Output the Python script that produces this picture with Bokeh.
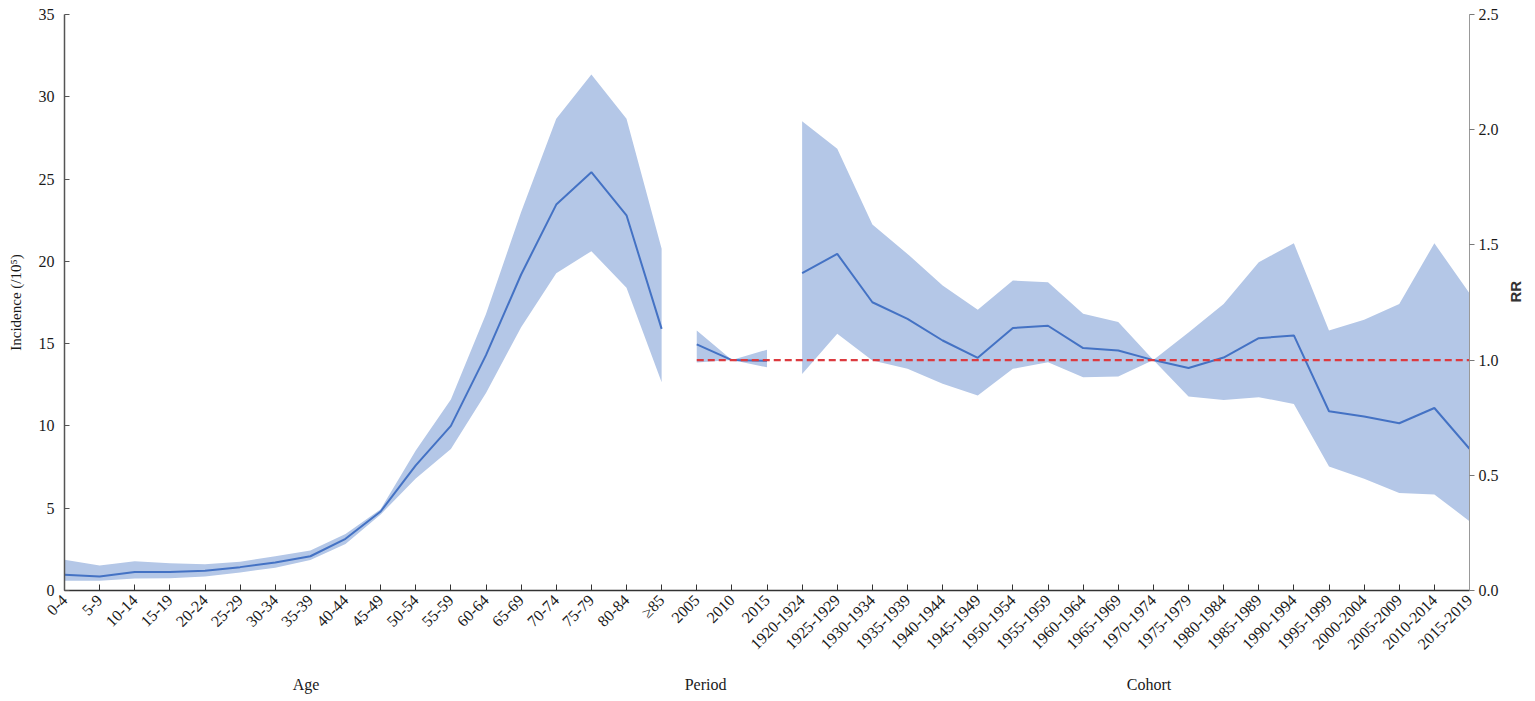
import math
from bokeh.plotting import figure
from bokeh.models import Range1d, LinearAxis, FixedTicker, PrintfTickFormatter
from bokeh.embed import file_html
from bokeh.resources import INLINE

# ---------------- data ----------------
age_groups = ["0-4", "5-9", "10-14", "15-19", "20-24", "25-29", "30-34", "35-39",
              "40-44", "45-49", "50-54", "55-59", "60-64", "65-69", "70-74", "75-79",
              "80-84", "\u226585"]
periods = ["2005", "2010", "2015"]
cohorts = ["1920-1924", "1925-1929", "1930-1934", "1935-1939", "1940-1944", "1945-1949",
           "1950-1954", "1955-1959", "1960-1964", "1965-1969", "1970-1974", "1975-1979",
           "1980-1984", "1985-1989", "1990-1994", "1995-1999", "2000-2004", "2005-2009",
           "2010-2014", "2015-2019"]
categories = age_groups + periods + cohorts

# Age effect: incidence per 100,000
age_rate = [0.95, 0.85, 1.12, 1.12, 1.2, 1.42, 1.7, 2.08, 3.14, 4.8, 7.6, 10.0,
            14.3, 19.2, 23.45, 25.42, 22.8, 15.9]
age_upper = [1.87, 1.52, 1.78, 1.66, 1.6, 1.75, 2.08, 2.43, 3.44, 4.94, 8.5, 11.6,
             16.8, 23.0, 28.66, 31.35, 28.66, 20.76]
age_lower = [0.6, 0.6, 0.73, 0.75, 0.85, 1.1, 1.38, 1.86, 2.83, 4.62, 6.8, 8.6,
             12.0, 16.0, 19.28, 20.62, 18.39, 12.66]

# Period effect: RR
period_rr = [1.068, 1.0, 0.997]
period_upper = [1.128, 1.0, 1.045]
period_lower = [0.99, 1.0, 0.969]

# Cohort effect: RR
cohort_rr = [1.377, 1.461, 1.251, 1.179, 1.085, 1.01, 1.139, 1.149, 1.052, 1.042,
             1.0, 0.966, 1.011, 1.095, 1.107, 0.778, 0.755, 0.726, 0.792, 0.615]
cohort_upper = [2.037, 1.917, 1.589, 1.461, 1.324, 1.218, 1.345, 1.338, 1.201, 1.165,
                1.0, 1.12, 1.244, 1.425, 1.507, 1.128, 1.175, 1.244, 1.507, 1.29]
cohort_lower = [0.94, 1.114, 0.998, 0.962, 0.897, 0.846, 0.962, 0.991, 0.926, 0.929,
                1.0, 0.842, 0.827, 0.839, 0.81, 0.538, 0.485, 0.423, 0.417, 0.301]

reference_rr = 1.0
incidence_ticks = [0, 5, 10, 15, 20, 25, 30, 35]
rr_ticks = [0.0, 0.5, 1.0, 1.5, 2.0, 2.5]
group_titles = ["Age", "Period", "Cohort"]

# ---------------- style ----------------
SERIF = "Liberation Serif"
BAND = "#b4c7e7"
LINE = "#4472c4"
RED = "#dc3a3f"
TXT = "#1a1a1a"

x_age = [categories.index(c) for c in age_groups]
x_period = [categories.index(c) for c in periods]
x_cohort = [categories.index(c) for c in cohorts]

p = figure(width=1535, height=701, output_backend="svg", toolbar_location=None,
           x_range=Range1d(0, len(categories) - 1),
           y_range=Range1d(incidence_ticks[0], incidence_ticks[-1]),
           min_border_left=64, min_border_right=65, min_border_top=14,
           min_border_bottom=111)
p.extra_y_ranges = {"rr": Range1d(rr_ticks[0], rr_ticks[-1])}
p.xgrid.visible = False
p.ygrid.visible = False
p.outline_line_color = None
p.background_fill_color = "white"
p.border_fill_color = "white"

# bands
p.varea(x=x_age, y1=age_lower, y2=age_upper, fill_color=BAND, fill_alpha=1)
p.varea(x=x_period, y1=period_lower, y2=period_upper, fill_color=BAND, fill_alpha=1,
        y_range_name="rr")
p.varea(x=x_cohort, y1=cohort_lower, y2=cohort_upper, fill_color=BAND, fill_alpha=1,
        y_range_name="rr")
# lines
p.line(x=x_age, y=age_rate, line_color=LINE, line_width=2)
p.line(x=x_period, y=period_rr, line_color=LINE, line_width=2, y_range_name="rr")
p.line(x=x_cohort, y=cohort_rr, line_color=LINE, line_width=2, y_range_name="rr")
# reference line RR = 1
p.line(x=[x_period[0], x_cohort[-1]], y=[reference_rr, reference_rr], line_color=RED,
       line_width=2.2, line_dash="7 4", y_range_name="rr")

# left axis
ya = p.yaxis[0]
ya.ticker = FixedTicker(ticks=incidence_ticks)
ya.axis_label = "Incidence (/10\u2075)"
ya.axis_label_text_font = SERIF
ya.axis_label_text_font_style = "normal"
ya.axis_label_text_font_size = "15px"
ya.axis_label_text_color = TXT
ya.axis_label_standoff = 12
ya.major_label_text_font = SERIF
ya.major_label_text_font_size = "16px"
ya.major_label_text_color = TXT
ya.major_label_standoff = 10
ya.major_tick_in = 5
ya.major_tick_out = 0
ya.minor_tick_line_color = None
ya.axis_line_color = "#555555"
ya.major_tick_line_color = "#555555"
ya.axis_line_width = 1.5

# right axis
ra = LinearAxis(y_range_name="rr", ticker=FixedTicker(ticks=rr_ticks),
                formatter=PrintfTickFormatter(format="%.1f"))
ra.axis_label = "RR"
ra.axis_label_orientation = math.pi / 2
ra.axis_label_text_font = "Liberation Sans"
ra.axis_label_text_font_style = "bold"
ra.axis_label_text_font_size = "15px"
ra.axis_label_text_color = "#333333"
ra.axis_label_standoff = 14
ra.major_label_text_font = SERIF
ra.major_label_text_font_size = "16px"
ra.major_label_text_color = TXT
ra.major_label_standoff = 4
ra.major_tick_in = 0
ra.major_tick_out = 5
ra.minor_tick_line_color = None
ra.axis_line_color = "#999999"
ra.major_tick_line_color = "#777777"
p.add_layout(ra, "right")

# bottom axis with category labels
xa = p.xaxis[0]
xa.ticker = FixedTicker(ticks=list(range(len(categories))))
xa.major_label_overrides = {i: c for i, c in enumerate(categories)}
xa.major_label_orientation = math.pi / 4
xa.major_label_text_font = SERIF
xa.major_label_text_font_size = "16px"
xa.major_label_text_color = TXT
xa.major_label_standoff = 7
xa.major_tick_in = 6
xa.major_tick_out = 0
xa.minor_tick_line_color = None
xa.axis_line_color = "#333333"
xa.major_tick_line_color = "#333333"
xa.axis_line_width = 1.5

# group titles axis
group_pos = [6.875, 18.25, 30.875]
ga = LinearAxis(ticker=FixedTicker(ticks=group_pos),
                major_label_overrides={pos: t for pos, t in zip(group_pos, group_titles)})
ga.axis_line_color = None
ga.major_tick_line_color = None
ga.minor_tick_line_color = None
ga.major_label_text_font = SERIF
ga.major_label_text_font_size = "16px"
ga.major_label_text_color = TXT
ga.major_label_standoff = 8
p.add_layout(ga, "below")

open("out.html", "w").write(file_html(p, INLINE))
